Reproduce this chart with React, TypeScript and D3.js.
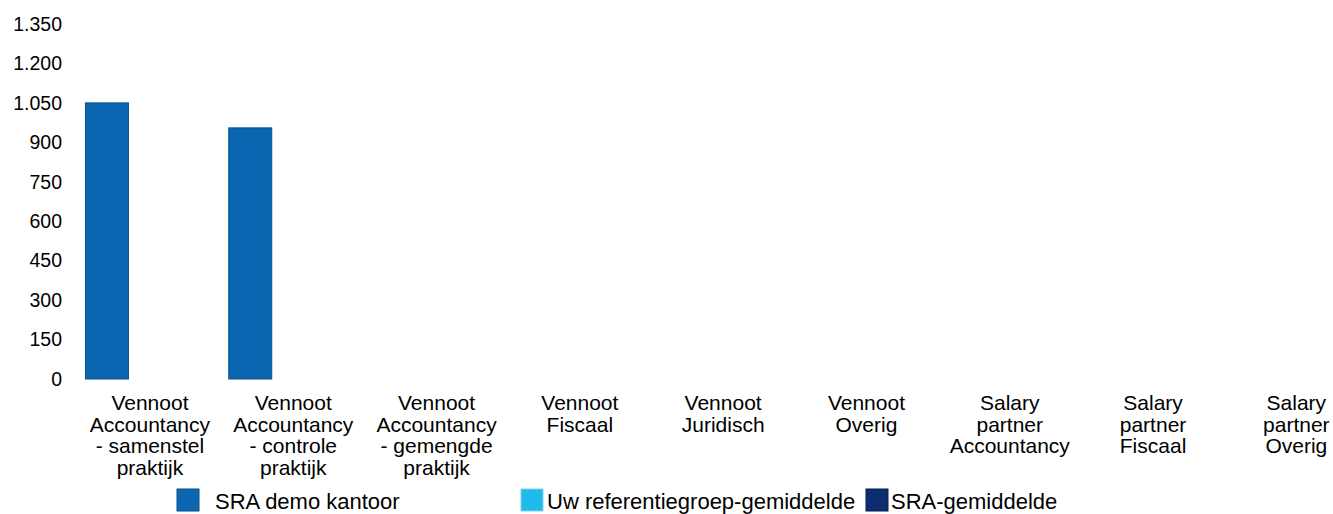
import { useEffect, useRef } from "react";
import * as d3 from "d3";

const categories = [
  ["Vennoot", "Accountancy", "- samenstel", "praktijk"],
  ["Vennoot", "Accountancy", "- controle", "praktijk"],
  ["Vennoot", "Accountancy", "- gemengde", "praktijk"],
  ["Vennoot", "Fiscaal"],
  ["Vennoot", "Juridisch"],
  ["Vennoot", "Overig"],
  ["Salary", "partner", "Accountancy"],
  ["Salary", "partner", "Fiscaal"],
  ["Salary", "partner", "Overig"],
];

const seriesNames = ["SRA demo kantoor", "Uw referentiegroep-gemiddelde", "SRA-gemiddelde"];
const seriesColors = ["#0a66b0", "#1fb9ea", "#0c2e70"];
const seriesStroke = ["#0a4f8c", "#7fd3f0", "#081f4d"];

const demoValues = [1050, 955, 0, 0, 0, 0, 0, 0, 0];
const refValues = [0, 0, 0, 0, 0, 0, 0, 0, 0];
const sraValues = [0, 0, 0, 0, 0, 0, 0, 0, 0];

const yTicks = [0, 150, 300, 450, 600, 750, 900, 1050, 1200, 1350];

const App = () => {
  const ref = useRef<SVGSVGElement>(null);

  useEffect(() => {
    const svg = d3.select(ref.current);
    svg.selectAll("*").remove();

    const width = 1333;
    const height = 514;
    const font = "'Liberation Sans', Arial, sans-serif";
    svg.attr("width", width).attr("height", height).style("display", "block");

    const series = [demoValues, refValues, sraValues];
    const idx = categories.map((_, i) => i);

    const x = d3.scaleBand<number>().domain(idx).range([78.3, 1368]).paddingInner(0).paddingOuter(0);
    const x1 = d3.scaleBand<number>().domain([0, 1, 2]).range([0, x.bandwidth()]).paddingOuter(0.166).paddingInner(0);
    const y = d3.scaleLinear().domain([0, 1350]).range([379, 24]);

    // y axis labels
    svg
      .append("g")
      .selectAll("text")
      .data(yTicks)
      .join("text")
      .attr("x", 62)
      .attr("y", (d) => y(d))
      .attr("dy", "0.35em")
      .attr("text-anchor", "end")
      .attr("font-family", font)
      .attr("font-size", 19.5)
      .attr("fill", "#000")
      .text((d) => d3.format(",")(d).replace(/,/g, "."));

    // bars
    series.forEach((vals, s) => {
      svg
        .append("g")
        .selectAll("rect")
        .data(vals.map((v, i) => ({ v, i })).filter((d) => d.v > 0))
        .join("rect")
        .attr("x", (d) => (x(d.i) as number) + (x1(s) as number))
        .attr("y", (d) => y(d.v))
        .attr("width", x1.bandwidth())
        .attr("height", (d) => y(0) - y(d.v))
        .attr("fill", seriesColors[s])
        .attr("stroke", seriesStroke[s])
        .attr("stroke-width", 1);
    });

    // category labels
    const labels = svg.append("g");
    categories.forEach((lines, i) => {
      const cx = (x(i) as number) + x.bandwidth() / 2;
      const t = labels
        .append("text")
        .attr("text-anchor", "middle")
        .attr("font-family", font)
        .attr("font-size", 21)
        .attr("fill", "#000");
      lines.forEach((l, j) => {
        t.append("tspan")
          .attr("x", cx)
          .attr("y", 410 + j * 21.5)
          .text(l);
      });
    });

    // legend
    const legendX = [177, 521, 866];
    const legendTextX = [215, 547, 891];
    const legend = svg.append("g");
    seriesNames.forEach((name, s) => {
      legend
        .append("rect")
        .attr("x", legendX[s])
        .attr("y", 489)
        .attr("width", 22)
        .attr("height", 22)
        .attr("fill", seriesColors[s])
        .attr("stroke", seriesStroke[s]);
      legend
        .append("text")
        .attr("x", legendTextX[s])
        .attr("y", 501)
        .attr("dy", "0.35em")
        .attr("font-family", font)
        .attr("font-size", 22)
        .attr("fill", "#000")
        .text(name);
    });
  }, []);

  return (
    <div style={{ position: "absolute", left: 0, top: 0 }}>
      <svg ref={ref}></svg>
    </div>
  );
};

export default App;
